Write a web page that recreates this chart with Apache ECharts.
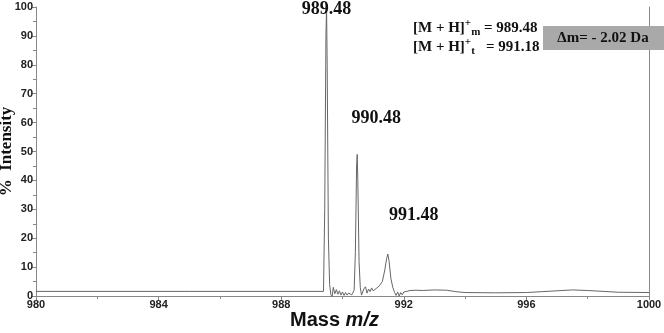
<!DOCTYPE html>
<html><head><meta charset="utf-8">
<script src="https://cdn.jsdelivr.net/npm/echarts@6/dist/echarts.min.js"></script>
<style>html,body{margin:0;padding:0;background:#fff}#c{width:664px;height:333px}</style>
</head><body><div id="c"></div>
<script>
// spectrum (m/z, % intensity)
const mz = [980, 985, 989.3, 989.38, 989.42, 989.46, 989.48, 989.5, 989.54, 989.58, 989.62, 989.66, 989.7, 989.75, 989.8, 989.85, 989.9, 989.95, 990.0, 990.05, 990.1, 990.15, 990.2, 990.3, 990.38, 990.42, 990.46, 990.48, 990.5, 990.54, 990.58, 990.62, 990.7, 990.75, 990.8, 990.85, 990.9, 990.95, 991.0, 991.1, 991.2, 991.3, 991.38, 991.44, 991.48, 991.52, 991.58, 991.64, 991.7, 991.75, 991.8, 991.85, 991.9, 991.95, 992.0, 992.1, 992.2, 992.4, 992.6, 993.0, 993.4, 993.7, 994.0, 995.0, 996.0, 996.5, 997.0, 997.5, 998.0, 998.5, 999.0, 1000];
const intensity = [1.6, 1.6, 1.6, 1.6, 30, 90, 100, 80, 20, 4, 0.5, -0.3, 3, 0.8, 2.2, 0.6, 1.8, 0.3, 1.4, 0.2, 1.2, 0.3, 1.0, 0.4, 2, 15, 45, 49, 40, 12, 3, 0.3, 2.5, 3.2, 1, 2.4, 1.5, 2.8, 1.8, 2.6, 3.5, 5, 9, 13, 14.5, 12, 6, 3, 1.2, 0.2, 1.4, 0, 1.2, 0.4, 1.4, 1.6, 1.9, 2.0, 1.9, 2.1, 2.0, 1.5, 1.2, 1.1, 1.2, 1.5, 1.8, 2.1, 1.9, 1.6, 1.3, 1.2];
const peakMz = [989.48, 990.48, 991.48];
const peakIntensity = [100, 49, 14.5];
const peakLabels = ['989.48', '990.48', '991.48'];
const xTicks = [980, 984, 988, 992, 996, 1000];
const yTicks = [0, 10, 20, 30, 40, 50, 60, 70, 80, 90, 100];
const massMeasured = '989.48';
const massTheoretical = '991.18';
const deltaText = 'Δm= - 2.02 Da';

const chart = echarts.init(document.getElementById('c'), null, {renderer: 'canvas'});
const serif = '"Liberation Serif", "DejaVu Serif", serif';
const sans = '"Liberation Sans", Arial, sans-serif';
const labelOffsets = [[0, 2], [19, -36], [26, -39]];

const option = {
  animation: false,
  grid: {left: 36, right: 15, top: 7, bottom: 37, containLabel: false, outerBoundsMode: 'none'},
  xAxis: {
    type: 'value', min: xTicks[0], max: xTicks[xTicks.length - 1], interval: 4,
    name: '{a|Mass }{b|m/z}', nameLocation: 'middle', nameGap: 14, nameMoveOverlap: false,
    nameTextStyle: {padding: [0, 16, 0, 0], rich: {
      a: {fontFamily: sans, fontWeight: 'bold', fontSize: 20, color: '#111'},
      b: {fontFamily: sans, fontWeight: 'bold', fontStyle: 'italic', fontSize: 20, color: '#111'}
    }},
    axisLine: {lineStyle: {color: '#888', width: 1}},
    axisTick: {length: 4, lineStyle: {color: '#888'}},
    minorTick: {show: true, splitNumber: 2, length: 3, lineStyle: {color: '#888'}},
    splitLine: {show: false},
    axisLabel: {fontFamily: sans, fontWeight: 'bold', fontSize: 11, color: '#222', margin: 3,
      formatter: v => String(v)}
  },
  yAxis: [{
    type: 'value', min: yTicks[0], max: yTicks[yTicks.length - 1], interval: 10,
    name: '%  Intensity', nameLocation: 'middle', nameGap: 21, nameMoveOverlap: false,
    nameTextStyle: {fontFamily: serif, fontWeight: 'bold', fontSize: 17, color: '#111'},
    axisLine: {show: true, lineStyle: {color: '#888', width: 1}},
    axisTick: {length: 4, lineStyle: {color: '#888'}},
    minorTick: {show: true, splitNumber: 2, length: 3, lineStyle: {color: '#888'}},
    splitLine: {show: false},
    axisLabel: {fontFamily: sans, fontWeight: 'bold', fontSize: 11, color: '#222', margin: 3}
  }, {
    type: 'value', min: 0, max: 100, position: 'right',
    axisLine: {show: true, lineStyle: {color: '#888', width: 1}},
    axisTick: {show: false}, axisLabel: {show: false}, splitLine: {show: false}
  }],
  series: [{
    type: 'line',
    data: mz.map((v, i) => [v, intensity[i]]),
    showSymbol: false, symbol: 'none',
    lineStyle: {color: '#666', width: 1},
    z: 2,
    markPoint: {
      symbol: 'circle', symbolSize: 0,
      label: {show: true},
      data: peakMz.map((m, i) => ({
        coord: [m, peakIntensity[i]],
        label: {show: true, formatter: peakLabels[i], position: 'inside', offset: labelOffsets[i],
          fontFamily: serif, fontWeight: 'bold', fontSize: 18, color: '#111'}
      }))
    }
  }],
  graphic: [
    {type: 'rect', shape: {x: 543, y: 26, width: 121, height: 24}, style: {fill: '#a9a9a9'}, z: 100},
    {type: 'text', x: 603, y: 38, z: 101, style: {text: deltaText, font: 'bold 15px ' + serif, fill: '#111', align: 'center', verticalAlign: 'middle'}},
    {type: 'text', x: 413, y: 18, z: 101, style: {
      text: '{a|[M + H]}{sp|+}{sb|m}{a| = ' + massMeasured + '}',
      rich: {
        a: {font: 'bold 15px ' + serif, fill: '#111', lineHeight: 20, verticalAlign: 'middle'},
        sp: {font: 'bold 11px ' + serif, fill: '#111', lineHeight: 20, verticalAlign: 'top'},
        sb: {font: 'bold 11px ' + serif, fill: '#111', lineHeight: 20, verticalAlign: 'bottom'}
      }
    }},
    {type: 'text', x: 413, y: 37, z: 101, style: {
      text: '{a|[M + H]}{sp|+}{sb|t}{a|   = ' + massTheoretical + '}',
      rich: {
        a: {font: 'bold 15px ' + serif, fill: '#111', lineHeight: 20, verticalAlign: 'middle'},
        sp: {font: 'bold 11px ' + serif, fill: '#111', lineHeight: 20, verticalAlign: 'top'},
        sb: {font: 'bold 11px ' + serif, fill: '#111', lineHeight: 20, verticalAlign: 'bottom'}
      }
    }}
  ]
};
chart.setOption(option);
</script></body></html>
